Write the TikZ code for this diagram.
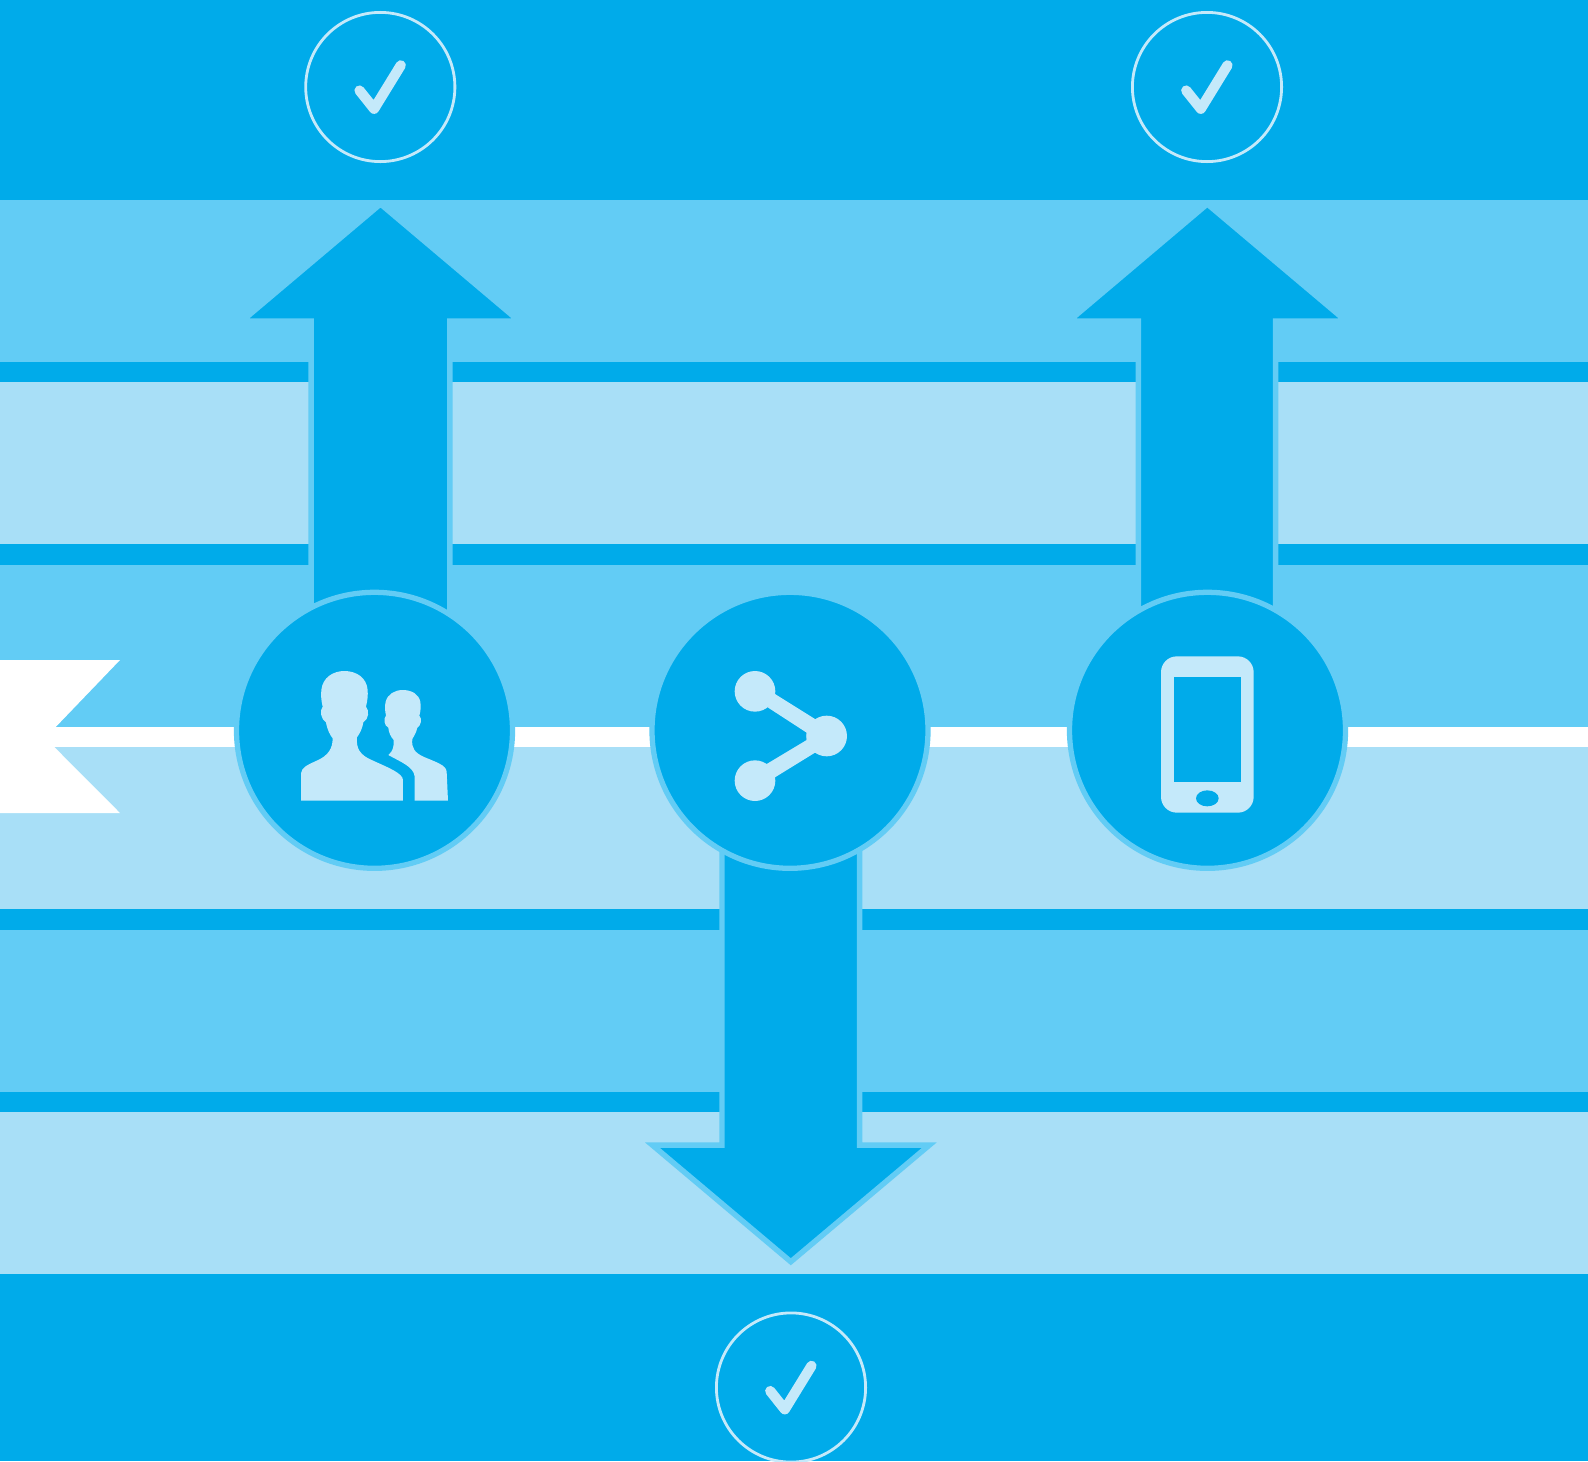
\documentclass[tikz,border=0pt]{standalone}
\definecolor{darkb}{RGB}{0,171,234}
\definecolor{midb}{RGB}{98,204,245}
\definecolor{lightb}{RGB}{168,223,247}
\definecolor{iconb}{RGB}{196,233,250}
\tikzset{
  pix/.style={x=0.02cm,y=-0.02cm},
  zoomed/.style={x=0.0066667cm,y=-0.0066667cm},
  arrowshape/.style={fill=darkb,draw=midb,line width=3.1pt,miter limit=20,line join=miter},
  hub/.style={fill=darkb,draw=midb,line width=3pt},
  ring/.style={draw=iconb,line width=1.6pt},
  tick/.style={draw=iconb,line width=5.8pt,line cap=round,line join=round},
}
\newcommand{\checkbadge}[2]{%
  \begin{scope}[shift={(#1,#2)}]
    \draw[ring] (0,0) circle [radius=74.6];
    \draw[tick] (-20.8,3.5) -- (-6.2,21.8) -- (20.5,-21.7);
  \end{scope}}
\begin{document}
\begin{tikzpicture}[pix]
\useasboundingbox (0,0) rectangle (1588,1461);
% bands
\fill[darkb] (0,0) rectangle (1588,1461);
\fill[midb] (0,200) rectangle (1588,362);
\fill[lightb] (0,382) rectangle (1588,544);
\fill[midb] (0,565) rectangle (1588,727);
\fill[lightb] (0,747) rectangle (1588,909);
\fill[midb] (0,929.5) rectangle (1588,1091.5);
\fill[lightb] (0,1112) rectangle (1588,1274);
% white line and flag
\fill[white] (0,727) rectangle (1588,747);
\fill[white] (0,660) -- (120,660) -- (55.7,727) -- (54.3,747) -- (120,813) -- (0,813) -- cycle;
% up arrows
\draw[arrowshape] (311.2,680) -- (311.2,321) -- (242,321) -- (380.5,204) -- (519,321) -- (449.8,321) -- (449.8,680) -- cycle;
\draw[arrowshape] (1138.3,680) -- (1138.3,321) -- (1069,321) -- (1207.3,204) -- (1346,321) -- (1275.7,321) -- (1275.7,680) -- cycle;
% down arrow
\draw[arrowshape] (722,780) -- (722,1145.2) -- (652.5,1145.2) -- (790.8,1261.7) -- (929.2,1145.2) -- (859.7,1145.2) -- (859.7,780) -- cycle;
% hubs
\draw[hub] (374.5,730.3) circle [radius=138];
\draw[hub] (790,730.3) circle [radius=138];
\draw[hub] (1207.5,730.3) circle [radius=138];
% people icon
\begin{scope}[shift={(220,560)},zoomed]
\fill[iconb] (243,722) -- (243,640) .. controls (245,622) and (262,615) .. (290,602)
  .. controls (325,587) and (338,565) .. (338,535)
  .. controls (330,525) and (322,510) .. (318,487)
  .. controls (303,478) and (298,452) .. (308,440)
  .. controls (303,420) and (303,405) .. (304,390)
  .. controls (308,352) and (340,333) .. (373,333)
  .. controls (408,333) and (440,352) .. (443,390)
  .. controls (444,405) and (443,420) .. (438,440)
  .. controls (449,452) and (446,478) .. (430,487)
  .. controls (426,510) and (418,522) .. (411,532)
  .. controls (408,565) and (420,585) .. (455,600)
  .. controls (510,625) and (548,640) .. (549,660)
  -- (549,722) -- cycle;
\fill[iconb] (584,722) -- (584,650) .. controls (582,620) and (540,605) .. (505,585)
  .. controls (518,575) and (523,558) .. (521,540)
  .. controls (512,530) and (506,517) .. (505,503)
  .. controls (492,497) and (490,475) .. (498,467)
  .. controls (494,450) and (495,435) .. (497,425)
  .. controls (503,402) and (525,390) .. (548,390)
  .. controls (575,390) and (596,402) .. (601,425)
  .. controls (603,440) and (602,455) .. (598,467)
  .. controls (608,477) and (602,498) .. (592,503)
  .. controls (589,518) and (582,528) .. (577,537)
  .. controls (574,565) and (585,578) .. (610,590)
  .. controls (650,607) and (678,615) .. (680,635)
  -- (684,722) -- cycle;
\end{scope}
% share icon
\begin{scope}[shift={(640,580)},zoomed]
\fill[iconb] (345,334) circle [radius=61];
\fill[iconb] (345,602) circle [radius=61];
\fill[iconb] (560,468) circle [radius=61];
\fill[iconb] (405,342) -- (525,417) -- (560,468) -- (525,518) -- (405,592) -- (380,552)
  -- (500,480) -- (500,458) -- (383,382) -- cycle;
\end{scope}
% phone icon
\begin{scope}[shift={(1060,570)},zoomed]
\fill[iconb,rounded corners=9pt] (303,259) rectangle (581,728);
\fill[darkb] (342,321) rectangle (543,637);
\fill[darkb] (442,685) ellipse [x radius=34,y radius=24];
\end{scope}
% check badges
\checkbadge{380.3}{87}
\checkbadge{1207}{87}
\checkbadge{791}{1387.5}
\end{tikzpicture}
\end{document}
